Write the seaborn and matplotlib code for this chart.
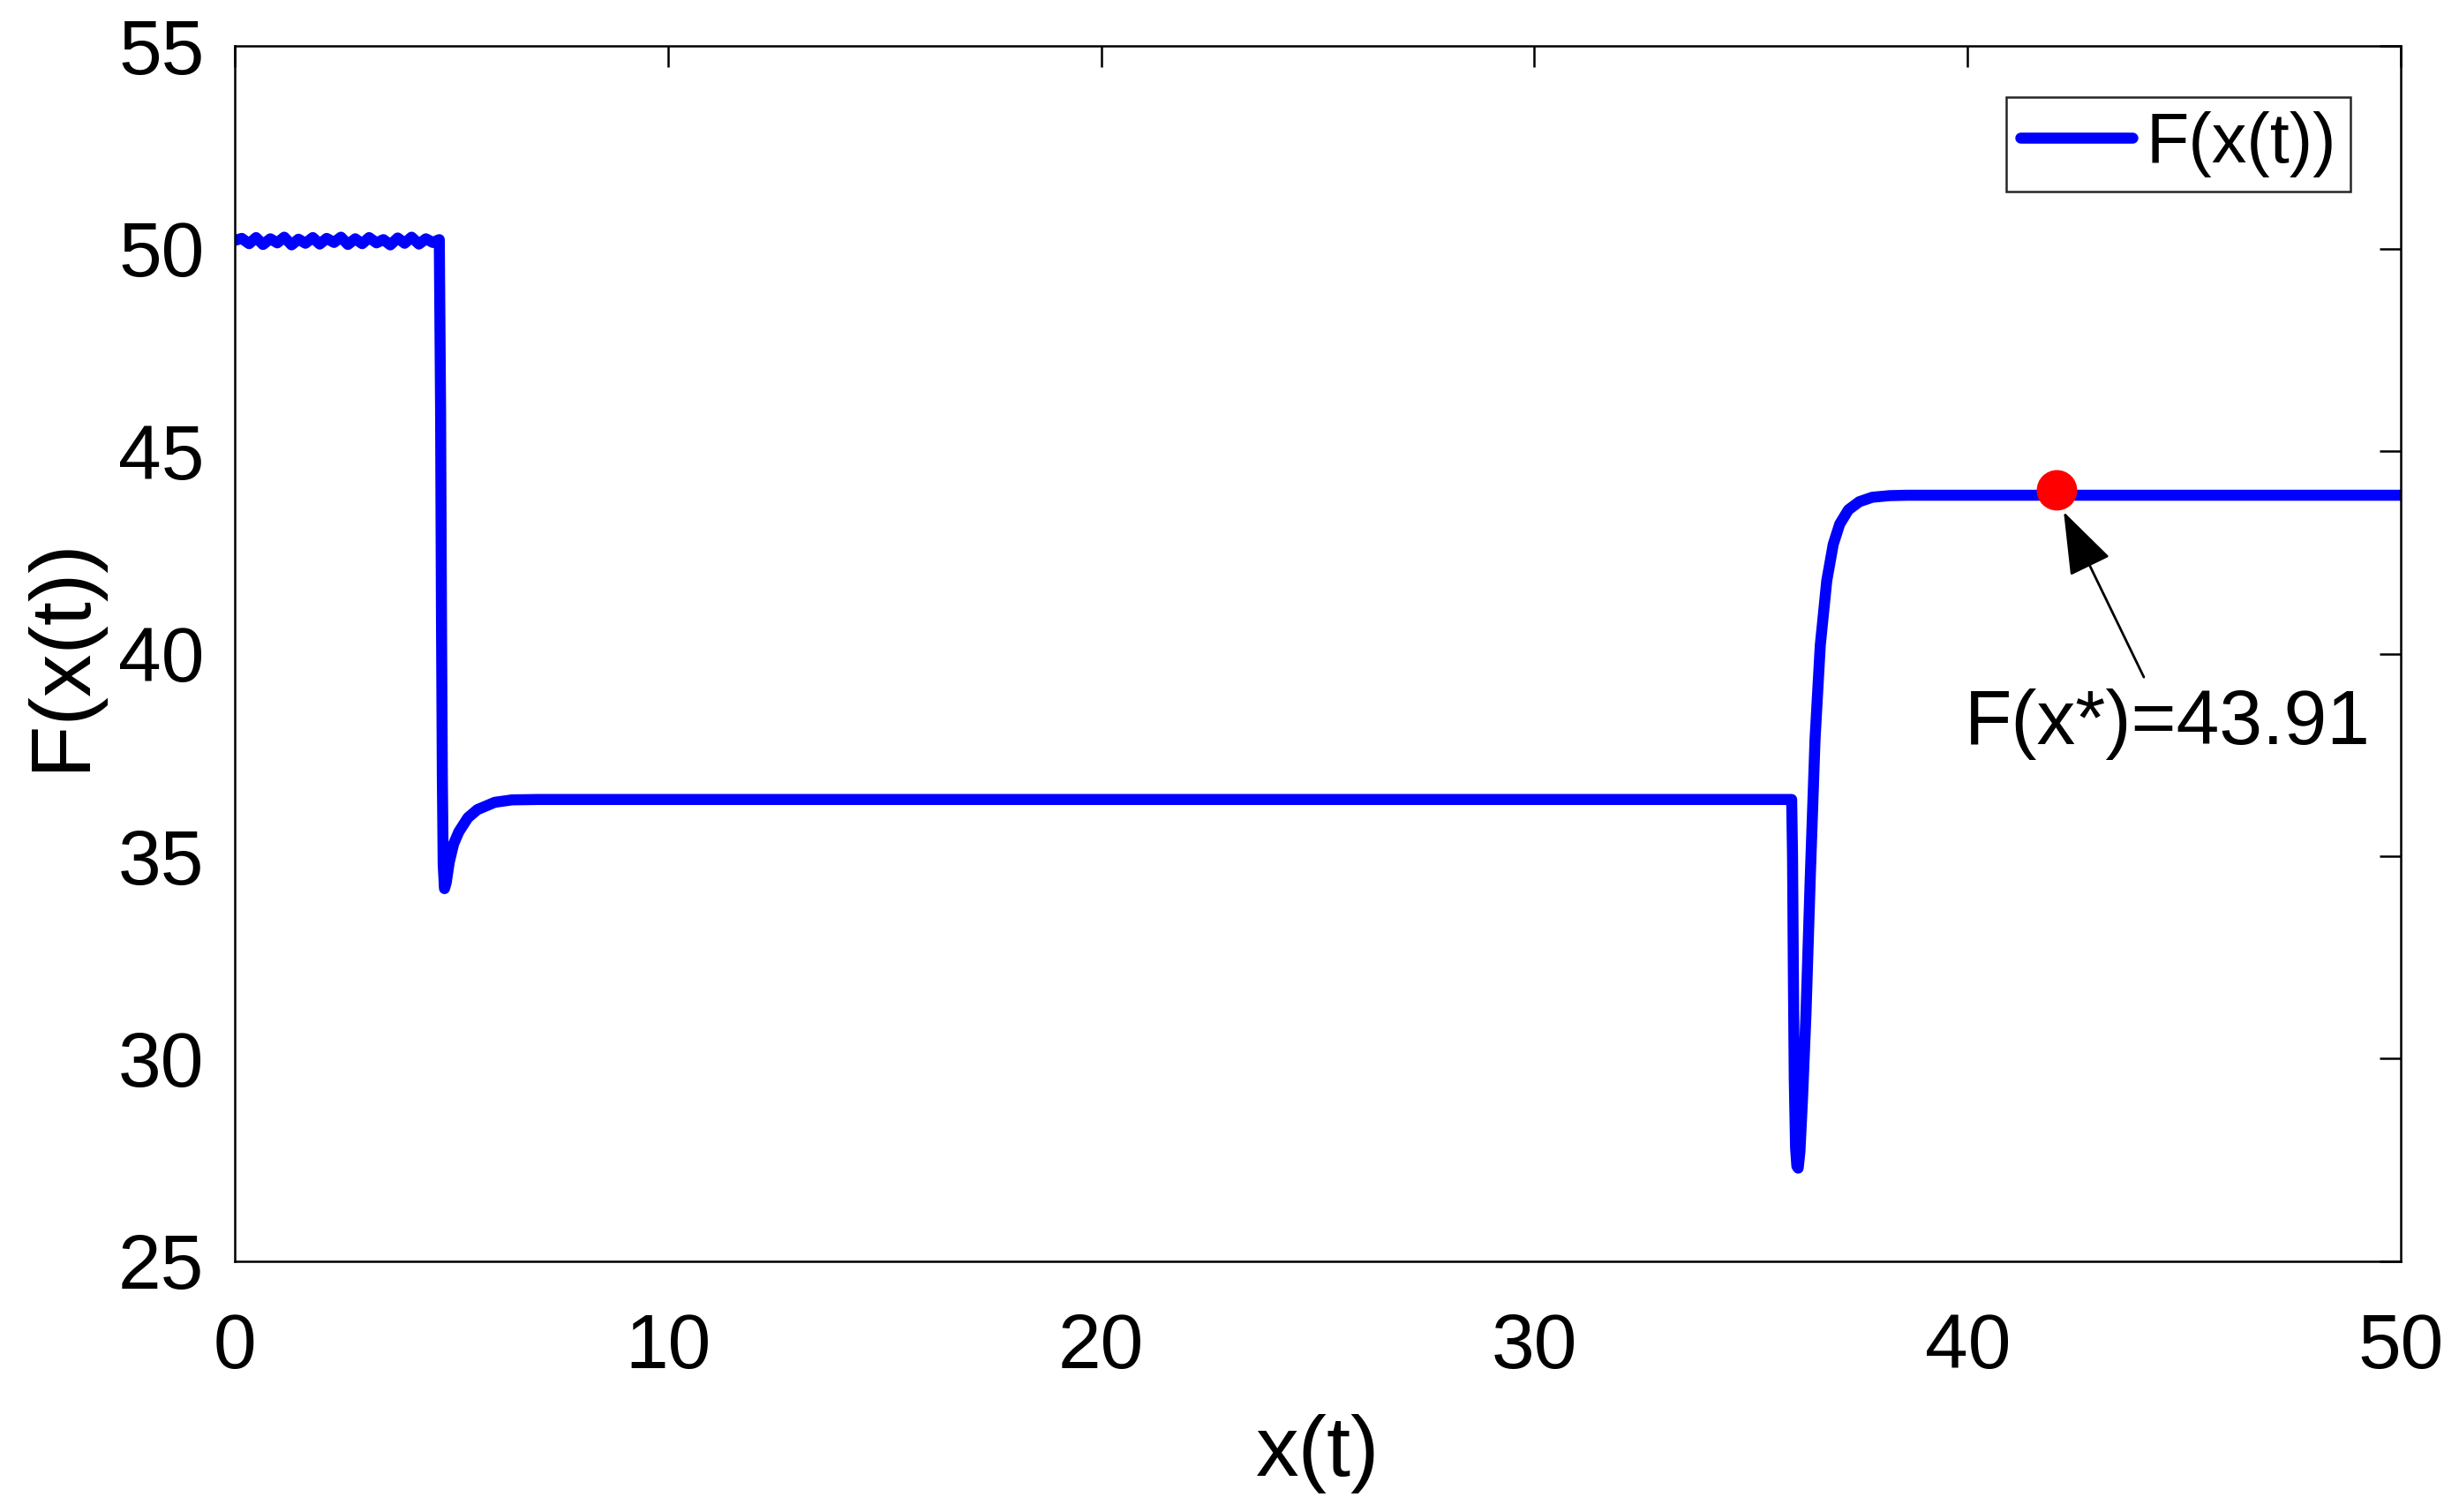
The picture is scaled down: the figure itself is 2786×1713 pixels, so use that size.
import matplotlib
matplotlib.use("Agg")
import matplotlib.pyplot as plt
import seaborn as sns
import pandas as pd

# ---- data ----
t_vals = [0.00, 0.16, 0.33, 0.49, 0.65, 0.82, 0.98, 1.14, 1.31, 1.47, 1.63, 1.80, 1.96, 2.12, 2.29,
          2.45, 2.61, 2.78, 2.94, 3.10, 3.27, 3.43, 3.59, 3.76, 3.92, 4.08, 4.25, 4.41, 4.57, 4.72,
          4.75, 4.77, 4.79, 4.81, 4.84, 4.88, 4.95, 5.05, 5.17, 5.38, 5.60, 6.00, 6.40, 7.00,
          35.94, 35.96, 35.98, 36.00, 36.03, 36.06, 36.09, 36.13, 36.19, 36.27, 36.37, 36.48, 36.60,
          36.75, 36.90, 37.05, 37.25, 37.50, 37.80, 38.20, 38.60, 50.00]
F_vals = [50.20, 50.25, 50.12, 50.27, 50.10, 50.24, 50.14, 50.28, 50.09, 50.23, 50.13, 50.27, 50.11, 50.25, 50.15,
          50.28, 50.10, 50.24, 50.12, 50.27, 50.14, 50.22, 50.09, 50.26, 50.13, 50.28, 50.11, 50.24, 50.15, 50.22,
          46.0, 41.0, 37.0, 34.8, 34.2, 34.35, 34.85, 35.3, 35.6, 35.95, 36.15, 36.33, 36.39, 36.40,
          36.40, 35.0, 32.0, 29.5, 27.8, 27.35, 27.3, 27.7, 29.0, 31.1, 34.5, 37.9, 40.2,
          41.8, 42.7, 43.2, 43.55, 43.75, 43.86, 43.90, 43.91, 43.91]
opt_x = [42.05]
opt_F = [44.05]
annot_text = "F(x*)=43.91"
series_label = "F(x(t))"
x_ticks = [0, 10, 20, 30, 40, 50]
y_ticks = [25, 30, 35, 40, 45, 50, 55]

df = pd.DataFrame({"t": t_vals, "F": F_vals})
df_opt = pd.DataFrame({"t": opt_x, "F": opt_F})

sns.set_theme(style="white")
plt.rcParams["font.family"] = ["Liberation Sans", "DejaVu Sans"]
plt.rcParams["text.color"] = "black"
plt.rcParams["axes.labelcolor"] = "black"

fig = plt.figure(figsize=(27.86, 17.13), dpi=100)
ax = fig.add_axes([0.0955, 0.1658, 0.8808, 0.8038])

sns.lineplot(data=df, x="t", y="F", sort=False, estimator=None, ax=ax,
             color="#0000ff", linewidth=9.0, label=series_label,
             solid_joinstyle="round", solid_capstyle="round")
sns.scatterplot(data=df_opt, x="t", y="F", ax=ax, color="#ff0000", s=33 ** 2,
                linewidth=0, zorder=5, legend=False)

ax.set_xlim(0, 50)
ax.set_ylim(25, 55)
ax.set_xticks(x_ticks)
ax.set_yticks(y_ticks)
ax.tick_params(axis="both", which="both", direction="in", length=17, width=1.8,
               top=True, right=True, labelsize=63, colors="black")
ax.tick_params(axis="x", pad=42)
ax.tick_params(axis="y", pad=25)
for sp in ax.spines.values():
    sp.set_visible(True)
    sp.set_color("black")
    sp.set_linewidth(1.8)

ax.set_xlabel("x(t)", fontsize=70, color="black")
ax.set_ylabel("F(x(t))", fontsize=70, color="black")
ax.xaxis.set_label_coords(0.5, -0.126)
ax.yaxis.set_label_coords(-0.0615, 0.5)

# annotation arrow and text
ax.annotate("", xy=(42.22, 43.5), xytext=(44.07, 39.42),
            arrowprops=dict(arrowstyle="-|>,head_length=45,head_width=16",
                            mutation_scale=1, color="black", lw=2.0,
                            shrinkA=0, shrinkB=0))
ax.text(44.62, 37.77, annot_text, fontsize=63, ha="center", va="baseline", color="black")

leg = ax.legend(loc="upper right", bbox_to_anchor=(0.9768, 0.9579), borderaxespad=0,
                fontsize=57, handlelength=1.6, handletextpad=0.2, borderpad=0.2,
                fancybox=False, framealpha=1, edgecolor="#262626")
leg.get_frame().set_linewidth(1.8)
for txt in leg.get_texts():
    txt.set_color("black")

fig.savefig("out.png", dpi=100)
